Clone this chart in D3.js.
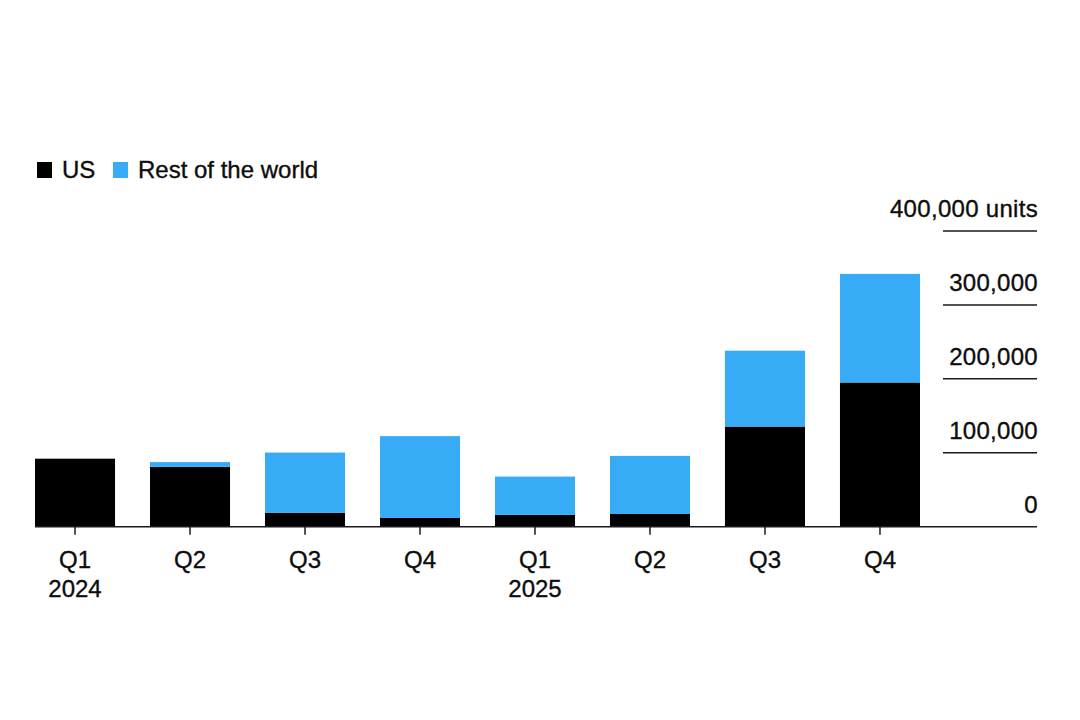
<!DOCTYPE html>
<html>
<head>
<meta charset="utf-8">
<script src="https://cdn.jsdelivr.net/npm/d3@7"></script>
<style>
  html, body { margin: 0; padding: 0; background: #ffffff; }
  svg { display: block; font-family: "Liberation Sans", Arial, sans-serif; }
  svg text { fill: #0d0d0d; stroke: #0d0d0d; stroke-width: 0.35px; }
</style>
</head>
<body>
<svg id="chart" width="1080" height="720"></svg>
<script>
  // Quarterly deliveries, units
  const quarters = ['Q1 2024', 'Q2 2024', 'Q3 2024', 'Q4 2024', 'Q1 2025', 'Q2 2025', 'Q3 2025', 'Q4 2025'];
  const quarterLabels = ['Q1', 'Q2', 'Q3', 'Q4', 'Q1', 'Q2', 'Q3', 'Q4'];
  const yearLabels = ['2024', '', '', '', '2025', '', '', ''];
  const usValues = [92000, 81000, 19000, 11800, 15900, 17200, 135500, 195100];
  const restValues = [0, 6400, 81300, 110700, 51900, 78600, 102600, 146900];
  const yTicks = [0, 100000, 200000, 300000, 400000];
  const seriesNames = ['US', 'Rest of the world'];
  const seriesColors = ['#000000', '#38abf7'];

  const svg = d3.select('#chart');

  const x = d3.scaleBand()
    .domain(quarters)
    .range([35, 920])
    .paddingInner(0.304)
    .paddingOuter(0);

  const y = d3.scaleLinear()
    .domain([0, 400000])
    .range([526.7, 231]);

  const rows = quarters.map((q, i) => ({ q: q, us: usValues[i], rest: restValues[i] }));
  const stacked = d3.stack().keys(['us', 'rest'])(rows);

  // Gridlines and y labels on the right
  const gridX0 = 943, gridX1 = 1037;
  const grid = svg.append('g').attr('class', 'grid');
  grid.selectAll('line')
    .data(yTicks.filter(d => d > 0))
    .enter()
    .append('line')
    .attr('x1', gridX0)
    .attr('x2', gridX1)
    .attr('y1', d => y(d))
    .attr('y2', d => y(d))
    .attr('stroke', '#1a1a1a')
    .attr('stroke-width', 1.5);

  grid.selectAll('text')
    .data(yTicks)
    .enter()
    .append('text')
    .attr('x', gridX1 + 1)
    .attr('y', d => y(d) - 14)
    .attr('text-anchor', 'end')
    .attr('font-size', 24)
    .attr('letter-spacing', 0.3)
    .text(d => d3.format(',')(d) + (d === 400000 ? ' units' : ''));

  // Bars
  const layers = svg.append('g').attr('class', 'bars');
  layers.selectAll('g')
    .data(stacked)
    .enter()
    .append('g')
    .attr('fill', (d, i) => seriesColors[i])
    .selectAll('rect')
    .data(d => d)
    .enter()
    .append('rect')
    .attr('x', d => x(d.data.q))
    .attr('width', x.bandwidth())
    .attr('y', d => y(d[1]))
    .attr('height', d => y(d[0]) - y(d[1]));

  // Baseline
  svg.append('line')
    .attr('x1', 35)
    .attr('x2', gridX1)
    .attr('y1', y(0))
    .attr('y2', y(0))
    .attr('stroke', '#1a1a1a')
    .attr('stroke-width', 1.5);

  // X axis ticks and labels
  const xAxis = svg.append('g').attr('class', 'x-axis');
  quarters.forEach((q, i) => {
    const cx = x(q) + x.bandwidth() / 2;
    xAxis.append('line')
      .attr('x1', cx).attr('x2', cx)
      .attr('y1', y(0)).attr('y2', y(0) + 8)
      .attr('stroke', '#1a1a1a')
      .attr('stroke-width', 1.5);
    xAxis.append('text')
      .attr('x', cx)
      .attr('y', 568)
      .attr('text-anchor', 'middle')
      .attr('font-size', 24)
      .text(quarterLabels[i]);
    if (yearLabels[i]) {
      xAxis.append('text')
        .attr('x', cx)
        .attr('y', 597)
        .attr('text-anchor', 'middle')
        .attr('font-size', 24)
        .text(yearLabels[i]);
    }
  });

  // Legend
  const legend = svg.append('g').attr('class', 'legend');
  const legendX = [37, 113];
  seriesNames.forEach((name, i) => {
    legend.append('rect')
      .attr('x', legendX[i])
      .attr('y', 162)
      .attr('width', 15)
      .attr('height', 16)
      .attr('fill', seriesColors[i]);
    legend.append('text')
      .attr('x', legendX[i] + 25)
      .attr('y', 178)
      .attr('font-size', 24)
      .text(name);
  });
</script>
</body>
</html>
